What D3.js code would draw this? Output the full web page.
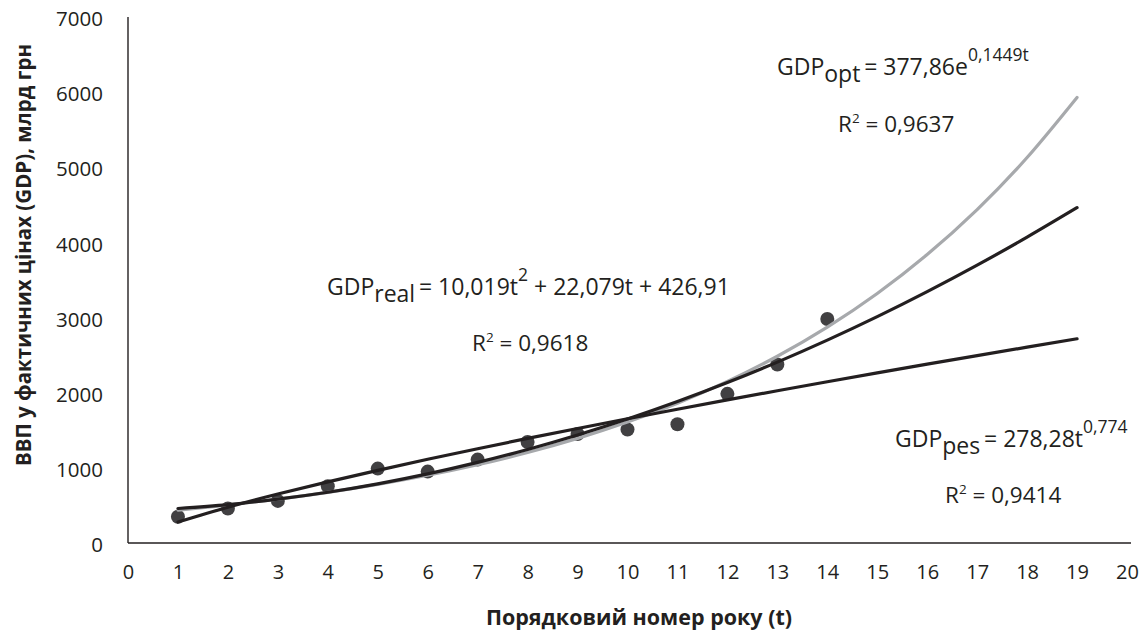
<!DOCTYPE html>
<html><head><meta charset="utf-8">
<script src="https://cdn.jsdelivr.net/npm/d3@7"></script>
<style>
html,body{margin:0;padding:0;background:#fff;}
text{font-family:"Open Sans","Noto Sans",sans-serif;fill:#231f20;}
</style></head>
<body>
<svg id="chart" width="1147" height="635"></svg>
<script>
// Observed data (t = 1..14)
const years = [1,2,3,4,5,6,7,8,9,10,11,12,13,14];
const gdp   = [350,460,560,755,990,950,1110,1345,1450,1510,1580,1985,2375,2980];
// Trend lines evaluated at t = 1..19 (from the equations shown on the chart)
const trendT = [1,2,3,4,5,6,7,8,9,10,11,12,13,14,15,16,17,18,19];
const trendReal = [459.0,511.1,583.3,675.5,787.8,920.1,1072.4,1244.8,1437.2,1649.6,1882.1,2134.6,2407.1,2699.7,3012.4,3345.0,3697.7,4070.5,4463.3];
const trendPes  = [278.3,475.9,651.3,813.7,967.1,1113.8,1254.9,1391.6,1524.2,1653.9,1780.5,1904.5,2026.1,2146.0,2263.7,2379.6,2493.8,2606.7,2718.0];
const trendOpt  = [436.8,504.9,583.6,674.6,779.8,901.4,1041.9,1204.4,1392.2,1609.3,1860.3,2150.3,2485.6,2873.2,3321.2,3839.1,4437.7,5129.6,5929.6];
const xTicks = [0,1,2,3,4,5,6,7,8,9,10,11,12,13,14,15,16,17,18,19,20];
const yTicks = [0,1000,2000,3000,4000,5000,6000,7000];

const svg = d3.select("#chart");
const x = d3.scaleLinear().domain([0,20]).range([128,1127]);
const y = d3.scaleLinear().domain([0,7000]).range([543,17]);

// axes
const xAxis = d3.axisBottom(x).tickValues(xTicks).tickSize(0).tickPadding(22).tickFormat(d3.format("d"));
const gx = svg.append("g").attr("transform","translate(0,543)").call(xAxis);
gx.select(".domain").attr("stroke","#231f20").attr("stroke-width",1.4).attr("d","M128,0H1131");
gx.selectAll("text").attr("font-size",20).attr("fill","#231f20").attr("font-family","Open Sans");

const yAxis = d3.axisLeft(y).tickValues(yTicks).tickSize(0).tickPadding(25).tickFormat(d3.format("d"));
const gy = svg.append("g").attr("transform","translate(128,0)").call(yAxis);
gy.select(".domain").attr("stroke","#231f20").attr("stroke-width",1.4).attr("d","M0,17V543");
gy.selectAll("text").attr("font-size",20.5).attr("fill","#231f20").attr("font-family","Open Sans").attr("dy","0.42em");

// points
svg.append("g").selectAll("circle").data(years).join("circle")
  .attr("cx",(d)=>x(d)).attr("cy",(d,i)=>y(gdp[i])).attr("r",7).attr("fill","#414042");

// trend lines
const line = d3.line().x(d=>x(d[0])).y(d=>y(d[1])).curve(d3.curveNatural);
function draw(vals,color){
  svg.append("path").datum(trendT.map((t,i)=>[t,vals[i]]))
    .attr("d",line).attr("fill","none").attr("stroke",color).attr("stroke-width",3.2).attr("stroke-linecap","round");
}
draw(trendOpt,"#a7a9ac");
draw(trendPes,"#231f20");
draw(trendReal,"#231f20");

// annotations
function eq(xp,yp,sub,main,sup,rest){
  const t = svg.append("text").attr("x",xp).attr("y",yp).attr("font-size",23);
  t.append("tspan").text("GDP");
  t.append("tspan").attr("dy",7).text(sub);
  t.append("tspan").attr("dy",-7).text("\u2009= "+main);
  t.append("tspan").attr("dy",-14).attr("font-size",17.5).text(sup);
  if(rest) t.append("tspan").attr("dy",14).text(rest);
}
eq(777,75,"opt","377,86e","0,1449t");
eq(327,295,"real","10,019t","2"," + 22,079t + 426,91");
eq(895,447,"pes","278,28t","0,774");

function r2(xp,yp,val){
  const t = svg.append("text").attr("x",xp).attr("y",yp).attr("font-size",22.5);
  t.append("tspan").text("R");
  t.append("tspan").attr("dy",-9).attr("font-size",13.5).text("2");
  t.append("tspan").attr("dy",9).text(" = "+val);
}
r2(838,132,"0,9637");
r2(472,351,"0,9618");
r2(945,503,"0,9414");

// axis titles
svg.append("text").attr("x",639).attr("y",625).attr("text-anchor","middle")
  .attr("font-size",21.5).attr("font-weight","bold").text("Порядковий номер року (t)");
svg.append("text").attr("transform","translate(31,255) rotate(-90)").attr("text-anchor","middle")
  .attr("font-size",20.5).attr("font-weight","bold").text("ВВП у фактичних цінах (GDP), млрд грн");
</script>
</body></html>
